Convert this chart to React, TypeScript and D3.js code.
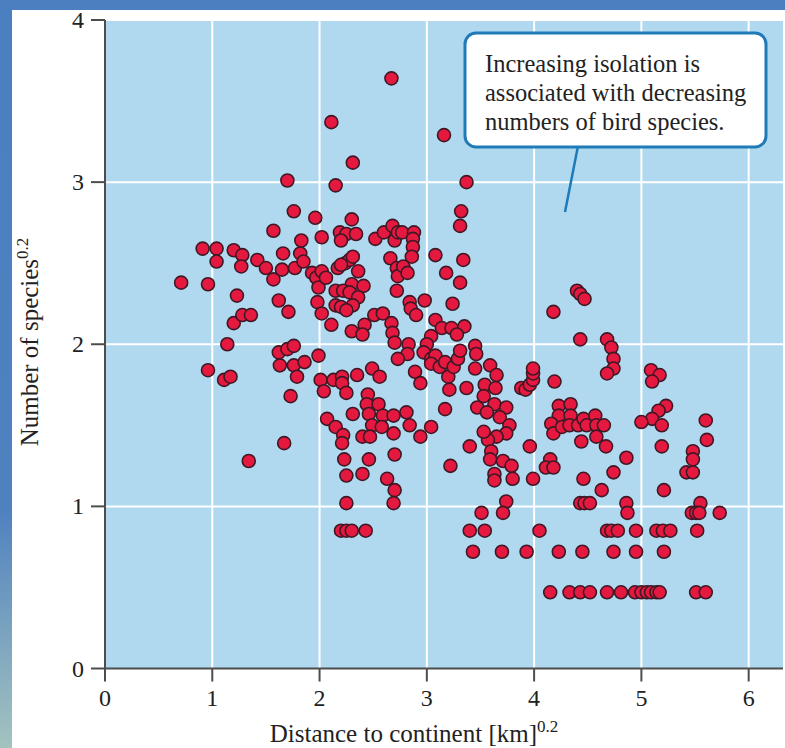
import React from 'react';
import * as d3 from 'd3';

// [distance^0.2, species^0.2], split by distance band
const nearIslands: [number, number][] = [
  [0.71, 2.38], [0.91, 2.59], [0.96, 2.37], [0.96, 1.84], [1.04, 2.59], [1.04, 2.51],
  [1.11, 1.78], [1.14, 2.0], [1.17, 1.8], [1.2, 2.58], [1.2, 2.13], [1.23, 2.3],
  [1.28, 2.55], [1.27, 2.48], [1.28, 2.18], [1.36, 2.18], [1.34, 1.28], [1.42, 2.52],
  [1.5, 2.47], [1.57, 2.4], [1.57, 2.7], [1.62, 2.27], [1.66, 2.56], [1.65, 2.46],
  [1.7, 3.01], [1.71, 2.2], [1.76, 2.82], [1.77, 2.47], [1.82, 2.56], [1.83, 2.64],
  [1.85, 2.51], [1.62, 1.95], [1.7, 1.97], [1.76, 1.99], [1.63, 1.87], [1.76, 1.87],
  [1.86, 1.89], [1.79, 1.8], [1.73, 1.68], [1.67, 1.39],
];

const midIslands: [number, number][] = [
  [1.93, 2.44], [1.96, 2.78], [1.97, 2.41], [2.02, 2.45], [2.02, 2.66], [1.99, 2.35],
  [1.98, 2.26], [2.02, 2.19], [2.06, 2.41], [2.11, 2.12], [1.99, 1.93], [2.01, 1.78],
  [2.04, 1.71], [2.13, 1.78], [2.07, 1.54], [2.15, 1.49], [2.22, 1.44], [2.21, 1.39],
  [2.23, 1.29], [2.25, 1.19], [2.25, 1.02], [2.11, 3.37], [2.15, 2.98], [2.31, 3.12],
  [2.3, 2.77], [2.19, 2.69], [2.25, 2.68], [2.34, 2.68], [2.2, 2.64], [2.17, 2.47],
  [2.24, 2.5], [2.28, 2.52], [2.31, 2.54], [2.36, 2.45], [2.2, 2.49], [2.15, 2.33],
  [2.3, 2.37], [2.41, 2.36], [2.22, 2.33], [2.28, 2.32], [2.36, 2.29], [2.31, 2.24],
  [2.15, 2.24], [2.2, 2.23], [2.25, 2.21], [2.3, 2.08], [2.42, 2.12], [2.4, 2.06],
  [2.21, 1.8], [2.21, 1.76], [2.25, 1.7], [2.35, 1.81], [2.49, 1.85], [2.56, 1.8],
  [2.31, 1.57], [2.45, 1.69], [2.44, 1.63], [2.46, 1.57], [2.55, 1.63], [2.59, 1.56],
  [2.69, 1.56], [2.81, 1.58], [2.49, 1.5], [2.58, 1.49], [2.69, 1.45], [2.84, 1.5],
  [2.94, 1.43], [3.04, 1.49], [2.4, 1.43], [2.47, 1.43], [2.46, 1.29], [2.7, 1.32],
  [2.4, 1.2], [2.63, 1.17], [2.7, 1.1], [2.69, 1.02], [2.2, 0.85], [2.25, 0.85],
  [2.3, 0.85], [2.43, 0.85], [2.52, 2.65], [2.6, 2.69], [2.68, 2.73], [2.7, 2.64],
  [2.73, 2.69], [2.67, 3.64], [2.77, 2.69], [2.88, 2.69], [2.87, 2.65], [2.87, 2.6],
  [2.86, 2.54], [2.66, 2.53], [2.72, 2.47], [2.73, 2.42], [2.78, 2.48], [2.82, 2.44],
  [2.72, 2.33], [2.51, 2.18], [2.59, 2.19], [2.67, 2.13], [2.68, 2.07], [2.7, 2.01],
  [2.83, 2.0], [2.82, 1.94], [2.73, 1.91], [2.84, 2.26], [2.85, 2.22], [2.9, 2.18],
  [2.98, 2.27], [2.89, 1.83], [2.94, 1.76],
];

const farIslands: [number, number][] = [
  [3.16, 3.29], [3.37, 3.0], [3.32, 2.82], [3.31, 2.73], [3.08, 2.55], [3.34, 2.52],
  [3.18, 2.44], [3.31, 2.38], [3.24, 2.25], [3.08, 2.15], [3.14, 2.1], [3.23, 2.1],
  [3.35, 2.11], [3.28, 2.06], [3.04, 2.05], [3.0, 2.0], [2.97, 1.95], [3.04, 1.91],
  [3.08, 1.93], [3.04, 1.88], [3.12, 1.86], [3.17, 1.89], [3.2, 1.8], [3.25, 1.86],
  [3.29, 1.91], [3.31, 1.96], [3.21, 1.72], [3.37, 1.73], [3.17, 1.6], [3.22, 1.25],
  [3.4, 1.37], [3.45, 1.99], [3.46, 1.94], [3.45, 1.85], [3.59, 1.87], [3.65, 1.81],
  [3.54, 1.75], [3.64, 1.73], [3.53, 1.68], [3.63, 1.63], [3.47, 1.61], [3.56, 1.58],
  [3.74, 1.61], [3.68, 1.55], [3.77, 1.5], [3.74, 1.45], [3.65, 1.43], [3.57, 1.41],
  [3.53, 1.46], [3.6, 1.34], [3.59, 1.29], [3.71, 1.28], [3.79, 1.25], [3.8, 1.17],
  [3.63, 1.2], [3.63, 1.16], [3.99, 1.17], [3.96, 1.37], [3.74, 1.03], [3.71, 0.96],
  [3.51, 0.96], [3.4, 0.85], [3.54, 0.85], [4.05, 0.85], [3.43, 0.72], [3.7, 0.72],
  [3.93, 0.72], [3.88, 1.73], [3.92, 1.72], [3.96, 1.75], [3.99, 1.78], [3.99, 1.82],
  [3.99, 1.85],
];

const remoteIslands: [number, number][] = [
  [4.18, 2.2], [4.4, 2.33], [4.43, 2.31], [4.47, 2.28], [4.19, 1.77], [4.43, 2.03],
  [4.68, 2.03], [4.72, 1.98], [4.74, 1.91], [4.74, 1.85], [4.68, 1.82], [5.09, 1.84],
  [5.17, 1.81], [5.1, 1.77], [5.23, 1.62], [5.16, 1.59], [5.1, 1.54], [5.0, 1.52],
  [5.19, 1.5], [5.6, 1.53], [5.61, 1.41], [5.19, 1.37], [5.48, 1.34], [5.48, 1.29],
  [5.42, 1.21], [5.48, 1.21], [5.21, 1.1], [5.55, 1.02], [5.47, 0.96], [5.51, 0.96],
  [5.54, 0.96], [5.73, 0.96], [5.52, 0.85], [5.14, 0.85], [5.2, 0.85], [5.27, 0.85],
  [4.68, 0.85], [4.72, 0.85], [4.78, 0.85], [4.95, 0.85], [4.86, 1.02], [4.87, 0.96],
  [4.74, 1.21], [4.86, 1.3], [4.63, 1.1], [4.46, 1.17], [4.43, 1.02], [4.47, 1.02],
  [4.52, 1.02], [4.23, 0.72], [4.45, 0.72], [4.74, 0.72], [4.95, 0.72], [5.21, 0.72],
  [4.23, 1.62], [4.34, 1.63], [4.23, 1.56], [4.34, 1.56], [4.16, 1.51], [4.18, 1.45],
  [4.26, 1.49], [4.33, 1.5], [4.41, 1.5], [4.46, 1.54], [4.49, 1.5], [4.57, 1.56],
  [4.58, 1.5], [4.65, 1.5], [4.58, 1.43], [4.67, 1.37], [4.44, 1.4], [4.15, 1.29],
  [4.11, 1.24], [4.18, 1.24],
  [4.15, 0.47], [4.33, 0.47], [4.43, 0.47], [4.52, 0.47], [4.68, 0.47], [4.81, 0.47],
  [4.94, 0.47], [5.0, 0.47], [5.05, 0.47], [5.09, 0.47], [5.14, 0.47], [5.17, 0.47],
  [5.51, 0.47], [5.6, 0.47],
];

const xTicks = [0, 1, 2, 3, 4, 5, 6];
const yTicks = [0, 1, 2, 3, 4];
const noteLines = [
  'Increasing isolation is',
  'associated with decreasing',
  'numbers of bird species.',
];

const W = 785;
const H = 748;
const serif = '"Liberation Serif", "DejaVu Serif", serif';

export default function App() {
  const x = d3.scaleLinear().domain([0, 6.32]).range([105, 783]);
  const y = d3.scaleLinear().domain([0, 4]).range([668.5, 20]);
  const points = [...nearIslands, ...midIslands, ...farIslands, ...remoteIslands];

  return (
    <svg width={W} height={H} style={{ position: 'absolute', left: 0, top: 0 }}>
      <defs>
        <linearGradient id="strip" x1="0" y1="0" x2="0" y2="1">
          <stop offset="0%" stopColor="#4a7fc0" />
          <stop offset="68%" stopColor="#4f81bf" />
          <stop offset="100%" stopColor="#a3c3c0" />
        </linearGradient>
      </defs>
      <rect x={0} y={0} width={W} height={H} fill="#ffffff" />
      <rect x={0} y={0} width={W} height={10} fill="#4a7fc0" />
      <rect x={0} y={0} width={12} height={H} fill="url(#strip)" />

      {/* plot panel */}
      <rect x={x(0)} y={y(4)} width={x(6.32) - x(0)} height={y(0) - y(4)} fill="#b0d8ee" />
      {xTicks.filter(t => t > 0).map(t => (
        <line key={'gx' + t} x1={x(t)} x2={x(t)} y1={y(4)} y2={y(0)} stroke="#ffffff" strokeWidth={2} />
      ))}
      {yTicks.filter(t => t > 0).map(t => (
        <line key={'gy' + t} x1={x(0)} x2={x(6.32)} y1={y(t)} y2={y(t)} stroke="#ffffff" strokeWidth={2} />
      ))}

      {/* axes */}
      <line x1={x(0)} x2={x(0)} y1={y(4)} y2={y(0)} stroke="#4d4d4d" strokeWidth={2} />
      <line x1={x(0)} x2={x(6.32)} y1={y(0)} y2={y(0)} stroke="#4d4d4d" strokeWidth={2} />
      {yTicks.map(t => (
        <g key={'ty' + t}>
          <line x1={x(0) - 14} x2={x(0)} y1={y(t)} y2={y(t)} stroke="#4d4d4d" strokeWidth={2} />
          <text x={x(0) - 21} y={y(t) + 8} textAnchor="end" fontFamily={serif} fontSize={24} fill="#222">{t}</text>
        </g>
      ))}
      {xTicks.map(t => (
        <g key={'tx' + t}>
          <line x1={x(t)} x2={x(t)} y1={y(0)} y2={y(0) + 13} stroke="#4d4d4d" strokeWidth={2} />
          <text x={x(t)} y={706} textAnchor="middle" fontFamily={serif} fontSize={24} fill="#222">{t}</text>
        </g>
      ))}

      {/* points */}
      {points.map((d, i) => (
        <circle key={i} cx={x(d[0])} cy={y(d[1])} r={6.5} fill="#e5193f" stroke="#3f1826" strokeWidth={1.6} />
      ))}

      {/* axis titles */}
      <text x={414} y={742} textAnchor="middle" fontFamily={serif} fontSize={25} fill="#222">
        Distance to continent [km]<tspan dy={-10} fontSize={17}>0.2</tspan>
      </text>
      <text transform="translate(38,342) rotate(-90)" textAnchor="middle" fontFamily={serif} fontSize={25} fill="#222">
        Number of species<tspan dy={-10} fontSize={17}>0.2</tspan>
      </text>

      {/* annotation */}
      <line x1={578} y1={146} x2={565} y2={212} stroke="#1f7ab8" strokeWidth={2.5} />
      <rect x={465} y={33} width={301} height={114} rx={11} fill="#ffffff" stroke="#1f7ab8" strokeWidth={3} />
      {noteLines.map((s, i) => (
        <text key={s} x={485} y={72 + i * 29} fontFamily={serif} fontSize={24.5} fill="#222">{s}</text>
      ))}
    </svg>
  );
}
